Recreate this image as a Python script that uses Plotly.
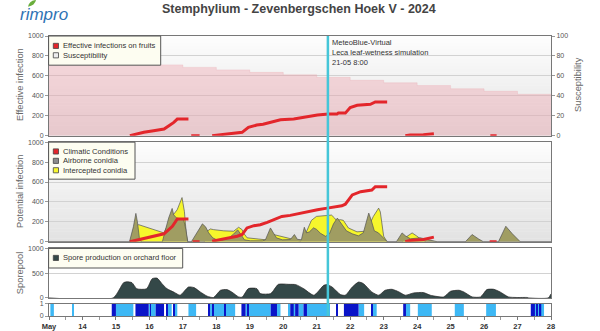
import pandas as pd
import plotly.graph_objects as go

START = pd.Timestamp("2024-05-13 00:00")
END = pd.Timestamp("2024-05-28 00:00")
NOW = pd.Timestamp("2024-05-21 08:00")

# ---------------- model output (hours since 13 May 00:00) ----------------
fruit_inf_h = [58, 65.5, 68, 75, 82.5, 86, 89.5, 92, 100, None, 102, 108, None,
               117, 127.5, 134.5, 138.5, 143, 149, 153.5, 158.5, 166, 175.5,
               182.5, 192.5, 200.5, 206.5, 207.5, 212.5, 216, 221, 230.5, 234,
               242.5, None, 255.5, 259, 268.5, 276, None, 316.5, 321]
fruit_inf = [0, 27, 33, 50, 67, 100, 133, 166, 166, None, 0, 0, None,
             0, 17, 27, 33, 83, 106, 115, 130, 160, 166,
             183, 206, 216, 216, 226, 226, 282, 305, 315, 338,
             338, None, 0, 7, 10, 20, None, 0, 0]

susc_dates = ["2024-05-13", "2024-05-17", "2024-05-18", "2024-05-19", "2024-05-20",
              "2024-05-21", "2024-05-22", "2024-05-23", "2024-05-24", "2024-05-25",
              "2024-05-26", "2024-05-27", "2024-05-28"]
susceptibility = [71, 68.5, 66, 63.5, 61, 58.5, 55.5, 53, 50.3, 47, 44.5, 41.5, 41.5]

climatic_h = [58, 82.5, 88.5, 92, 100, None, 103, 108, None,
              117, 130, 135, 138.5, 142, 147, 151.5, 156.5, 161, 167,
              173, 180.5, 192.5, 199.5, 206.5, 210, 212.5, 217.5, 223.5, 229.5,
              231.5, 234, 242.5, None, 255.5, 259, 268.5, 276, None, 316, 321]
climatic = [0, 80, 156, 229, 229, None, 0, 0, None,
            7, 40, 56, 73, 139, 162, 172, 195, 222, 255,
            265, 288, 321, 338, 354, 361, 377, 470, 503, 520,
            520, 553, 553, None, 0, 13, 23, 47, None, 0, 0]

airborne_h = [0, 57.7, 60.5, 62.3, 63.4, 64.8, 66.3,
              81.3, 83.5, 85.8, 88.3, 89.4, 91.4, 94.2, 96.6, 98.2, 99.5,
              102.1, 105.7, 110, 112.3, 114.5, 117.4, 120.3, 124.6, 129.1, 132.2,
              135.3, 137.3, 140.1, 144.4, 153, 155.2, 158.8, 160.9, 163.1, 167.4,
              173.1, 176, 178.1, 181, 183.1, 184.6, 186.8, 189.7, 191.8, 194.7,
              198.3, 201.1, 204, 206.8, 209.7, 213.3, 217.5, 221.9, 225.4, 229.3,
              231.2, 233.3, 236.2, 239.8, 242.6,
              249.1, 253.2, 255.6, 259.2, 266.3, 273.5, 278.5,
              298.6, 303.4, 307.9, 311.5,
              322.3, 327.6, 332.3, 338, 360]
airborne = [0, 0, 150, 285, 200, 40, 0,
            0, 120, 238, 335, 271, 240, 225, 220, 120, 0,
            0, 80, 180, 150, 90, 40, 20, 20, 40, 75,
            120, 80, 20, 10, 10, 20, 139, 90, 40, 20,
            23, 73, 25, 20, 146, 90, 100, 140, 125, 85,
            55, 80, 180, 238, 180, 110, 80, 60, 90, 288,
            210, 110, 90, 40, 0,
            0, 89, 60, 30, 40, 15, 0,
            0, 73, 30, 0,
            0, 156, 80, 0, 0]

intercepted_h = [0, 58.4, 61.2, 64.3, 82.3, 85.8, 88.5, 91.9, 93.5, 95.4,
                 97.1, 98.5, 99.5, 111.4, 112.9, 115.7, 118.1, 125.3, 132.4, 134.9,
                 136, 138.5, 139.4, 142.1, 151.6, 158.8, 161.1, 166, 175.5, 180.3,
                 182.4, 186, 188.2, 191.8, 198.3, 202.6, 204.7, 206.1, 209, 211.1,
                 214.7, 220.9, 226.9, 229, 232.6, 236.4, 237.6, 240, 242.5,
                 253.4, 256.3, 260.4, 263.5, 266.3, 270.6, 360]
intercepted = [0, 0, 150, 172, 90, 189, 260, 321, 380, 444,
               305, 73, 0, 0, 100, 129, 122, 110, 106, 140,
               146, 122, 90, 40, 23, 15, 73, 56, 23, 7,
               30, 150, 215, 255, 262, 268, 240, 215, 222, 215,
               139, 100, 106, 150, 255, 338, 300, 56, 0,
               0, 50, 89, 60, 30, 0, 0]

spore_h = [0, 46, 53.5, 56, 59.5, 63, 70, 74, 77.5, 81,
           84.5, 90, 94, 100, 104, 108.5, 113.5, 118, 123, 127.5,
           131, 136, 138.5, 143, 149, 151.5, 159, 164.5, 172, 177,
           182.5, 190, 197, 199.5, 203, 209, 212.5, 217.5, 222, 225.5,
           231.5, 236.5, 241, 246, 251, 255.5, 261.5, 268.5, 273.5, 283,
           288, 294, 297.5, 303.5, 309.5, 314, 319, 323.5, 329.5, 335.5,
           343, 344, 358, 360]
spore = [0, 0, 308, 325, 308, 185, 185, 388, 400, 288,
         188, 110, 54, 220, 208, 120, 34, 8, 154, 168,
         120, 20, 14, 188, 188, 88, 88, 274, 274, 268,
         188, 54, 254, 268, 220, 68, 54, 220, 320, 288,
         120, 54, 154, 174, 120, 54, 100, 108, 54, 20,
         134, 154, 120, 20, 20, 168, 174, 120, 20, 8,
         8, 0, 0, 80]

# leaf wetness periods and rain periods (hours since 13 May 00:00)
wet_start = [1, 16.5, 48, 71.5, 84.5, 90, 100, 115.5, 141, 163.5, 172, 175.5,
             179, 185, 222, 232, 256, 264.5, 291, 313.5, 348.5]
wet_end = [3.5, 17.5, 60.5, 76.5, 88, 92, 105.5, 133.5, 159, 166, 173, 176.5,
           182.5, 201.5, 226, 235, 259, 274.5, 297.5, 320.5, 355]
rain_start = [45, 62, 72.5, 76.5, 84, 89, 114.5, 117, 126, 138, 142, 159, 173,
              176.5, 182.5, 206, 211.5, 231, 254, 345.5, 349.5, 352]
rain_end = [48, 71.5, 73, 82.5, 84.7, 90, 115.5, 117.7, 126.7, 141, 143, 163.5,
            175.5, 179, 185, 207, 222, 232, 256, 348.5, 350.5, 353]

day_ticks = pd.date_range(START, END, freq="D")
day_text = ["May"] + [str(d.day) for d in day_ticks[1:]]

# ---------------- helpers ----------------
def ts(hours):
    return [None if h is None else
            (START + pd.Timedelta(hours=h)).strftime("%Y-%m-%d %H:%M:%S")
            for h in hours]

W, H = 600, 331
ML, MR, MT, MB = 49, 49, 36, 12
PW, PH = W - ML - MR, H - MT - MB


def px(x):
    return (x - ML) / PW


def py(y):
    return (H - MB - y) / PH


FONT = "Liberation Sans, Arial, sans-serif"
RED = "#e3262b"
YELLOW = "#f6f62c"
OLIVE = "#a09d62"
SLATE = "#344848"
WET = "#3db8f5"
RAIN = "#0a14c8"
PINK = "rgba(238,150,160,0.34)"

P1 = [py(136.7), 1.0]
P2 = [py(244), py(143.3)]
P3 = [py(300.7), py(250.7)]
P4 = [0.0, py(306.7)]

fig = go.Figure()

# panel 1: susceptibility (right axis) and effective infections (left axis)
fig.add_trace(go.Scatter(
    x=susc_dates, y=susceptibility, xaxis="x", yaxis="y",
    mode="lines", line=dict(shape="hv", width=0.5, color="rgba(235,170,178,0.6)"),
    fill="tozeroy", fillcolor=PINK, name="Susceptibility"))
fig.add_trace(go.Scatter(
    x=ts(fruit_inf_h), y=fruit_inf, xaxis="x", yaxis="y5",
    mode="lines", line=dict(color=RED, width=3), connectgaps=False,
    name="Effective infections on fruits"))

# panel 2: conidia and climatic conditions
fig.add_trace(go.Scatter(
    x=ts(intercepted_h), y=intercepted, xaxis="x2", yaxis="y2",
    mode="lines", line=dict(color="#555", width=0.7),
    fill="tozeroy", fillcolor=YELLOW, name="Intercepted conidia"))
fig.add_trace(go.Scatter(
    x=ts(airborne_h), y=airborne, xaxis="x2", yaxis="y2",
    mode="lines", line=dict(color="#555", width=0.7),
    fill="tozeroy", fillcolor=OLIVE, name="Airborne conidia"))
fig.add_trace(go.Scatter(
    x=ts(climatic_h), y=climatic, xaxis="x2", yaxis="y2",
    mode="lines", line=dict(color=RED, width=3), connectgaps=False,
    name="Climatic Conditions"))

# panel 3: spore pool
fig.add_trace(go.Scatter(
    x=ts(spore_h), y=spore, xaxis="x3", yaxis="y3",
    mode="lines", line=dict(color="#222", width=0.7, shape="spline", smoothing=0.6),
    fill="tozeroy", fillcolor=SLATE, name="Spore production on orchard floor"))

# panel 4: wetness / rain periods
fig.add_trace(go.Bar(
    x=ts(wet_start), y=[1] * len(wet_start), xaxis="x4", yaxis="y4",
    width=[(e - s) * 3600 * 1000 for s, e in zip(wet_start, wet_end)], offset=0,
    marker=dict(color=WET, line=dict(width=0)), name="Leaf wetness"))
fig.add_trace(go.Bar(
    x=ts(rain_start), y=[1] * len(rain_start), xaxis="x4", yaxis="y4",
    width=[(e - s) * 3600 * 1000 for s, e in zip(rain_start, rain_end)], offset=0,
    marker=dict(color=RAIN, line=dict(width=0)), name="Rain"))

# ---------------- axes ----------------
LINE = "#777"
tickfont = dict(family=FONT, size=7, color="#555")
xcommon = dict(range=[START, END], type="date", showgrid=False, showline=True,
               linecolor=LINE, linewidth=1, mirror=True, zeroline=False)
ycommon = dict(showline=True, linecolor=LINE, linewidth=1, ticks="outside",
               ticklen=3, tickcolor="#999", tickfont=tickfont, zeroline=False,
               gridcolor="#d2d2d2", gridwidth=1, fixedrange=True)

layout = dict(
    width=W, height=H,
    margin=dict(l=ML, r=MR, t=MT, b=MB, pad=0),
    paper_bgcolor="white", plot_bgcolor="rgba(0,0,0,0)",
    showlegend=False, barmode="overlay",
    font=dict(family=FONT, color="#333"),
    xaxis=dict(xcommon, anchor="y", domain=[0, 1], showticklabels=False, ticks="", matches="x4"),
    xaxis2=dict(xcommon, anchor="y2", domain=[0, 1], showticklabels=False, ticks="", matches="x4"),
    xaxis3=dict(xcommon, anchor="y3", domain=[0, 1], showticklabels=False, ticks="", matches="x4"),
    xaxis4=dict(xcommon, anchor="y4", domain=[0, 1], tickmode="array",
                tickvals=list(day_ticks), ticktext=day_text, ticks="outside",
                ticklen=3, tickcolor="#777",
                tickfont=dict(family=FONT, size=7.5, color="#333", weight="bold"),
                minor=dict(ticks="outside", ticklen=3, tickcolor="#999",
                           dtick=12 * 3600 * 1000, tick0="2024-05-13", showgrid=False),
                automargin=False),
    yaxis=dict(ycommon, domain=P1, anchor="x", side="right", range=[0, 100],
               tickvals=[0, 20, 40, 60, 80, 100], showgrid=True, mirror=True),
    yaxis5=dict(ycommon, domain=P1, anchor="x", overlaying="y", side="left",
                range=[0, 1000], tickvals=[0, 200, 400, 600, 800, 1000], showgrid=False),
    yaxis2=dict(ycommon, domain=P2, anchor="x2", range=[0, 1000],
                tickvals=[0, 200, 400, 600, 800, 1000], showgrid=True, mirror=True),
    yaxis3=dict(ycommon, domain=P3, anchor="x3", range=[0, 1000],
                tickvals=[0, 500, 1000], showgrid=True, mirror=True),
    yaxis4=dict(ycommon, domain=P4, anchor="x4", range=[0, 1],
                tickvals=[0, 1], showgrid=False, mirror=True),
)
fig.update_layout(**layout)

shapes = []
annotations = []


def gradient(top, bottom, c_top, c_bot, n=30):
    for i in range(n):
        t = (i + 0.5) / n
        c = [round(a + (b - a) * t) for a, b in zip(c_top, c_bot)]
        y0 = top + (bottom - top) * i / n
        y1 = top + (bottom - top) * (i + 1) / n
        shapes.append(dict(type="rect", xref="paper", yref="paper", layer="below",
                           x0=0, x1=1, y0=py(y1), y1=py(y0) + 0.001,
                           fillcolor="rgb(%d,%d,%d)" % tuple(c), line=dict(width=0)))


gradient(36, 136.7, (253, 253, 253), (228, 228, 228))
gradient(143.3, 244, (253, 253, 253), (226, 226, 226))

# current-time marker across all panels
shapes.append(dict(type="line", xref="x", yref="paper", x0=NOW, x1=NOW, y0=0, y1=1,
                   line=dict(color="#45c6d8", width=2.5), layer="above"))
annotations.append(dict(
    x=NOW, xref="x", y=py(36.5), yref="paper", xanchor="left", yanchor="top",
    xshift=2, align="left", showarrow=False,
    text="MeteoBlue-Virtual<br>Leca leaf-wetness simulation<br>%s %d:%02d"
         % (NOW.strftime("%d-%m"), NOW.hour, NOW.minute),
    font=dict(family=FONT, size=7.5, color="#333")))

# legend boxes
legends = [
    dict(box=(48.6, 36, 160.7, 65.5),
         items=[("Effective infections on fruits", RED, 46.0),
                ("Susceptibility", "#eeeeee", 55.5)]),
    dict(box=(48.6, 143.3, 135, 180.7),
         items=[("Climatic Conditions", RED, 152.7),
                ("Airborne conidia", "#8a8a8a", 162.2),
                ("Intercepted conidia", YELLOW, 171.7)]),
    dict(box=(48.6, 250.7, 182.7, 270.5),
         items=[("Spore production on orchard floor", SLATE, 260.3)]),
]
for lg in legends:
    x0, y0, x1, y1 = lg["box"]
    shapes.append(dict(type="rect", xref="paper", yref="paper", layer="above",
                       x0=px(x0), x1=px(x1), y0=py(y1), y1=py(y0),
                       fillcolor="#fdfdf1", line=dict(color="#555", width=1)))
    for label, color, yc in lg["items"]:
        shapes.append(dict(type="rect", xref="paper", yref="paper", layer="above",
                           x0=px(53.3), x1=px(58.5), y0=py(yc + 2.6), y1=py(yc - 2.6),
                           fillcolor=color, line=dict(color="#444", width=0.8)))
        annotations.append(dict(x=px(60.5), y=py(yc), xref="paper", yref="paper",
                                xanchor="left", yanchor="middle", showarrow=False,
                                text=label, font=dict(family=FONT, size=7.6, color="#333")))

# axis titles
for text, x, y in [("Effective infection", 20, 85.5),
                   ("Potential infection", 20, 193.7),
                   ("Sporepool", 20, 275.7),
                   ("Susceptibility", 578, 85.5)]:
    annotations.append(dict(x=px(x), y=py(y), xref="paper", yref="paper",
                            xanchor="center", yanchor="middle", showarrow=False,
                            textangle=-90, text=text,
                            font=dict(family=FONT, size=9.3, color="#666")))

# title and logo
annotations.append(dict(x=px(298.5), y=py(9), xref="paper", yref="paper",
                        xanchor="center", yanchor="middle", showarrow=False,
                        text="<b>Stemphylium - Zevenbergschen Hoek V - 2024</b>",
                        font=dict(family=FONT, size=12.5, color="#444")))
annotations.append(dict(x=px(44), y=py(14.5), xref="paper", yref="paper",
                        xanchor="center", yanchor="middle", showarrow=False,
                        text="<i>rimpro</i>",
                        font=dict(family=FONT, size=17, color="#2f74b5")))
shapes.append(dict(type="path", xref="paper", yref="paper", layer="above",
                   path="M %f,%f Q %f,%f %f,%f Q %f,%f %f,%f Z" % (
                       px(28), py(6.5), px(29), py(0.5), px(36), py(-0.5),
                       px(35), py(5), px(28), py(6.5)),
                   fillcolor="#6aae3c", line=dict(width=0)))

fig.update_layout(shapes=shapes, annotations=annotations)

fig.write_html("out.html")
